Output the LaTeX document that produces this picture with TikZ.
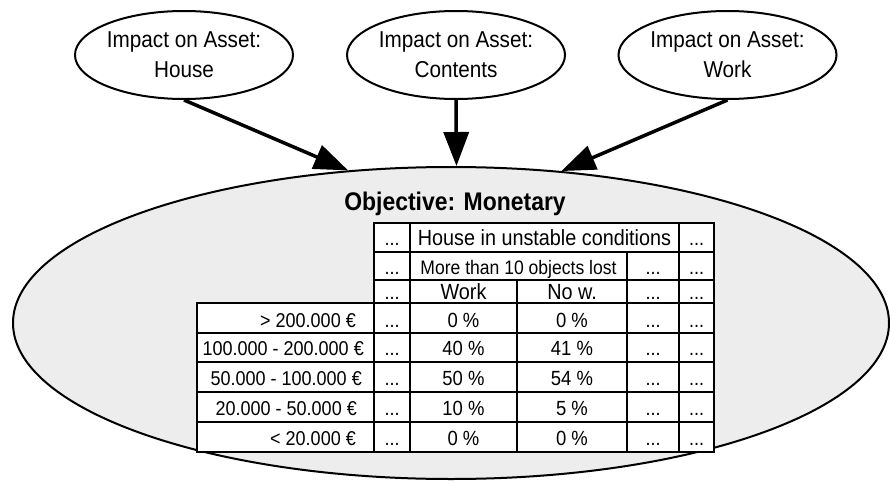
\documentclass[tikz,border=0pt]{standalone}
\usepackage{fontspec}
\setmainfont{Liberation Sans}[FakeStretch=0.9]
\usetikzlibrary{shapes.geometric,arrows.meta}
\definecolor{objfill}{HTML}{EDEDED}

\begin{document}
\begin{tikzpicture}[x=1pt,y=-1pt,
  asset/.style={ellipse, draw, line width=2pt, fill=white,
    minimum width=204pt, minimum height=88pt, inner sep=0pt,
    align=center, font=\fontsize{23}{30}\selectfont},
  objective/.style={ellipse, draw, line width=2pt, fill=objfill,
    minimum width=876pt, minimum height=312pt, inner sep=0pt},
  link/.style={line width=3.5pt, -{Triangle[length=34pt,width=25pt]}},
  cellbox/.style={draw, fill=white, line width=2pt},
  celltext/.style={anchor=base, inner sep=0pt, font=\fontsize{20.5}{24}\selectfont},
  headtext/.style={anchor=base, inner sep=0pt, font=\fontsize{22}{26}\selectfont},
  subtext/.style={anchor=base, inner sep=0pt, font=\fontsize{19.5}{24}\selectfont},
  rowlabel/.style={anchor=base east, inner sep=0pt, font=\fontsize{20}{24}\selectfont},
  dots/.style={anchor=base, inner sep=0pt, font=\fontsize{20}{24}\selectfont}]

\useasboundingbox (0,0) rectangle (890,484);

% objective node with its title
\node[objective] (obj) at (451,323) {};
\node[anchor=base, inner sep=0pt, font=\bfseries\fontsize{25.5}{30}\selectfont]
  (objtitle) at (455,210) {Objective: Monetary};

% header rows of the table
\draw[cellbox] (374,223) rectangle (410,252);
\draw[cellbox] (410,223) rectangle (679,252);
\draw[cellbox] (679,223) rectangle (714,252);
\draw[cellbox] (374,252) rectangle (410,280);
\draw[cellbox] (410,252) rectangle (627,280);
\draw[cellbox] (627,252) rectangle (679,280);
\draw[cellbox] (679,252) rectangle (714,280);
\draw[cellbox] (374,280) rectangle (410,303);
\draw[cellbox] (410,280) rectangle (517,303);
\draw[cellbox] (517,280) rectangle (627,303);
\draw[cellbox] (627,280) rectangle (679,303);
\draw[cellbox] (679,280) rectangle (714,303);

\node[dots] (h0a) at (392,245) {...};
\node[headtext] (house) at (544.5,245) {House in unstable conditions};
\node[dots] (h0b) at (696.5,245) {...};

\node[dots] (h1a) at (392,274) {...};
\node[subtext] (objects) at (518.5,274) {More than 10 objects lost};
\node[dots] (h1b) at (653,274) {...};
\node[dots] (h1c) at (696.5,274) {...};

\node[dots] (h2a) at (392,299) {...};
\node[headtext] (work) at (463.5,299) {Work};
\node[headtext] (nowork) at (572,299) {No w.};
\node[dots] (h2b) at (653,299) {...};
\node[dots] (h2c) at (696.5,299) {...};

% body rows of the table
\foreach \t/\bt in {303/333,333/362,362/392,392/422,422/452}{
  \foreach \l/\r in {197/374,374/410,410/517,517/627,627/679,679/714}{
    \draw[cellbox] (\l,\t) rectangle (\r,\bt);
  }
}
\foreach \b/\ex/\lab/\pw/\pn [count=\i] in {
    327/356/{> 200.000 €}/0/0,
    355/364/{100.000 - 200.000 €}/40/41,
    385/362/{50.000 - 100.000 €}/50/54,
    415/357/{20.000 - 50.000 €}/10/5,
    445/356/{< 20.000 €}/0/0}{
  \node[rowlabel] (label\i) at (\ex,\b) {\lab};
  \node[dots] (da\i) at (392,\b) {...};
  \node[celltext] (pw\i) at (463.5,\b) {\pw{} \%};
  \node[celltext] (pn\i) at (572,\b) {\pn{} \%};
  \node[dots] (db\i) at (653,\b) {...};
  \node[dots] (dc\i) at (696.5,\b) {...};
}

% impact nodes
\node[asset] (ahouse) at (184,55) {Impact on Asset:\\House};
\node[asset] (acontents) at (456,55) {Impact on Asset:\\Contents};
\node[asset] (awork) at (727.5,55) {Impact on Asset:\\Work};

% influence arcs
\draw[link] (ahouse.south) -- (obj.124.6);
\draw[link] (acontents.south) -- (obj.88.2);
\draw[link] (awork.south) -- (obj.54);

\end{tikzpicture}
\end{document}
